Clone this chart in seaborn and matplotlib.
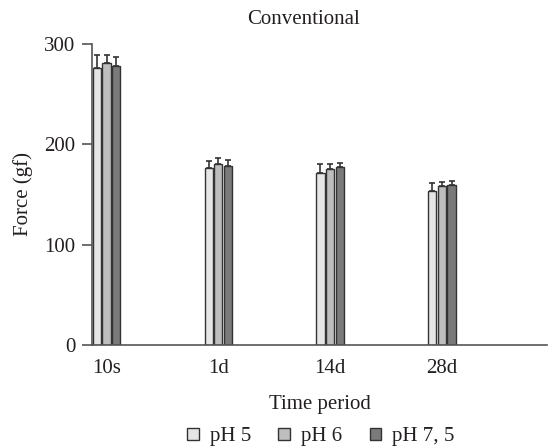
import numpy as np
import pandas as pd
import matplotlib
matplotlib.use("Agg")
import matplotlib.pyplot as plt
import seaborn as sns

# Data
periods = ["10s", "1d", "14d", "28d"]
groups = ["pH 5", "pH 6", "pH 7, 5"]
force_ph5 = [276, 176, 171, 153]
force_ph6 = [281, 180, 175, 158]
force_ph75 = [278, 178, 177, 159]
err_ph5 = [13, 7, 9, 8]
err_ph6 = [8, 6, 5, 4]
err_ph75 = [9, 6, 4, 4]

colors = ["#e6e6e6", "#bebebe", "#7a7a7a"]

df = pd.DataFrame({
    "period": periods * 3,
    "group": [g for g in groups for _ in periods],
    "force": force_ph5 + force_ph6 + force_ph75,
})
errs = [err_ph5, err_ph6, err_ph75]

sns.set_style("ticks")
plt.rcParams["font.family"] = ["Liberation Serif", "DejaVu Serif"]
fs = 15

fig = plt.figure(figsize=(5.5, 4.47), dpi=100)
ax = fig.add_axes([92 / 550, 1 - 345 / 447, (547 - 92) / 550, (345 - 44) / 447])

sns.barplot(data=df, x="period", y="force", hue="group", order=periods,
            hue_order=groups, palette=colors, width=0.26, gap=0.15,
            errorbar=None, edgecolor="#333333", linewidth=1.0,
            legend=False, ax=ax)

# upward-only error bars on top of each bar
for cont, e in zip(ax.containers, errs):
    for bar, ev in zip(cont, e):
        xc = bar.get_x() + bar.get_width() / 2
        h = bar.get_height()
        ax.errorbar(xc, h, yerr=[[0], [ev]], fmt="none", ecolor="#333333",
                    elinewidth=1.2, capsize=2.5, capthick=1.2)

ax.set_xlim(-0.13, 3.94)
ax.set_ylim(0, 300)
ax.set_yticks([0, 100, 200, 300])
sns.despine(ax=ax)
for s in ["left", "bottom"]:
    ax.spines[s].set_color("#555555")
    ax.spines[s].set_linewidth(1.2)
ax.tick_params(axis="y", length=7, width=1.2, color="#555555", pad=5,
               labelsize=fs, labelcolor="#231f20")
ax.tick_params(axis="x", length=0, pad=10, labelsize=fs, labelcolor="#231f20")
ax.set_xlabel("Time period", fontsize=fs, color="#231f20", labelpad=12)
ax.set_ylabel("Force (gf)", fontsize=fs, color="#231f20", labelpad=8)

fig.text(303 / 550, 1 - 20 / 447, "Conventional", ha="center", va="center",
         fontsize=fs, color="#231f20")

handles = [plt.Rectangle((0, 0), 1, 1, facecolor=c, edgecolor="#333333",
                         linewidth=1.0) for c in colors]
fig.legend(handles, groups, loc="center", ncol=3, frameon=False,
           bbox_to_anchor=(321 / 550, 1 - 437 / 447), fontsize=fs,
           handlelength=0.55, handleheight=0.55, handletextpad=0.55,
           columnspacing=1.3, labelcolor="#231f20", borderpad=0.2)

fig.savefig("out.png", dpi=100)
